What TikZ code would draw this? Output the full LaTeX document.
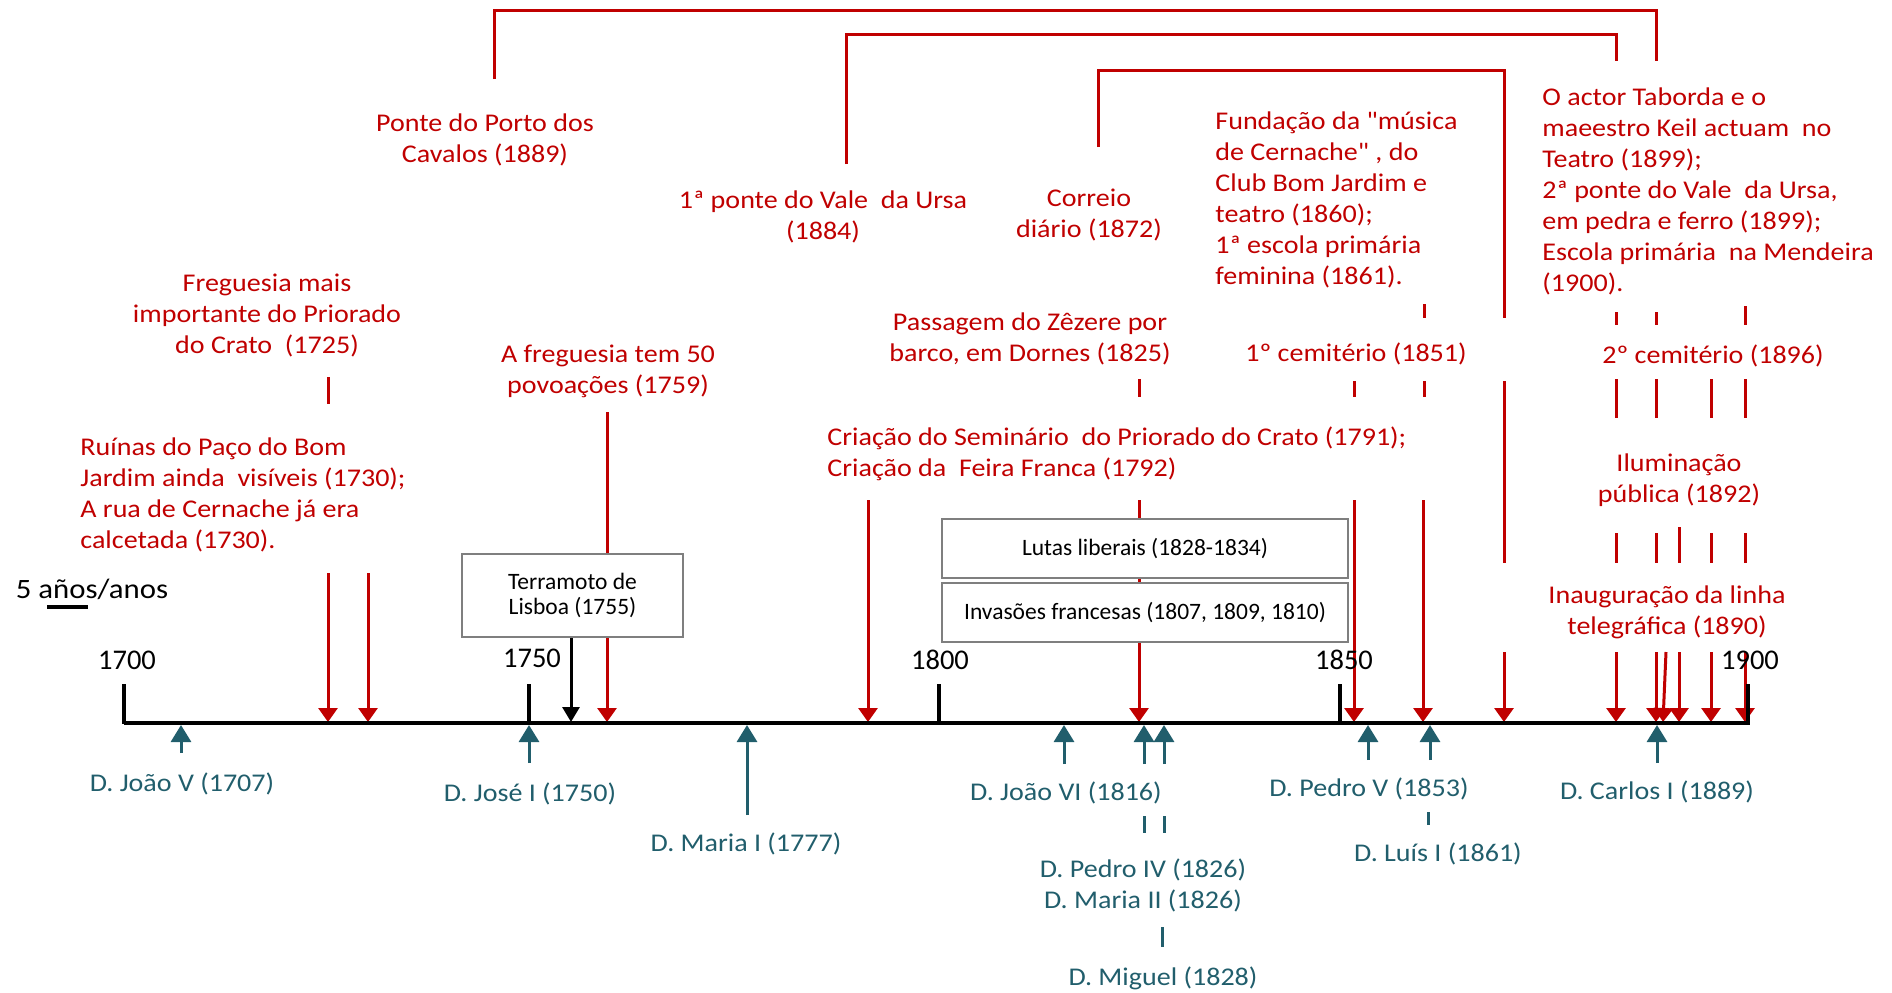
\documentclass[tikz,border=0pt]{standalone}
\usepackage{fontspec}
\setmainfont{Carlito}
\newfontfamily\wf{Carlito}[FakeStretch=1.1]
\usetikzlibrary{arrows.meta}
\definecolor{dred}{HTML}{C00000}
\definecolor{kteal}{HTML}{215E6C}
\definecolor{bgray}{HTML}{7F7F7F}
\tikzset{
  redline/.style={draw=dred, line width=1.5pt},
  redarrow/.style={redline, -{Triangle[width=9.5pt,length=7pt]}},
  tealline/.style={draw=kteal, line width=1.5pt},
  tealarrow/.style={tealline, -{Triangle[width=10pt,length=8.5pt]}},
  blackarrow/.style={draw=black, line width=1.5pt, -{Triangle[width=8.5pt,length=7.5pt]}},
  redtxt/.style={text=dred, inner sep=0pt, font=\wf\fontsize{12.75pt}{15.5pt}\selectfont},
  tealtxt/.style={text=kteal, inner sep=0pt, font=\wf\fontsize{12.75pt}{15.5pt}\selectfont},
  yeartxt/.style={text=black, inner sep=0pt, font=\fontsize{14.25pt}{16pt}\selectfont},
  boxnode/.style={draw=bgray, line width=1.4pt, fill=white, inner sep=0pt, align=center,
     font=\fontsize{11.75pt}{12.5pt}\selectfont},
  axisline/.style={draw=black, line width=2.25pt},
  tickline/.style={draw=black, line width=2.3pt}
}
\begin{document}
\begin{tikzpicture}[x=0.5pt,y=-0.5pt]
\useasboundingbox (0,0) rectangle (1892,992);

% ---- top brackets ----
\draw[redline] (494,79) -- (494,10) -- (1656,10) -- (1656,61);
\draw[redline] (846,164) -- (846,34) -- (1616,34) -- (1616,61);
\draw[redline] (1098,147) -- (1098,70) -- (1504,70) -- (1504,318);

% ---- red plain segments ----
\draw[redline] (328,377) -- (328,404);
\draw[redline] (1139,379) -- (1139,397);
\draw[redline] (1354,381) -- (1354,397);
\draw[redline] (1424,304) -- (1424,318);
\draw[redline] (1424,381) -- (1424,397);
\draw[redline] (1504,381) -- (1504,563);
\draw[redline] (1616,312) -- (1616,325);
\draw[redline] (1656,312) -- (1656,325);
\draw[redline] (1745,306) -- (1745,325);
\foreach \x in {1616,1656,1711,1745} \draw[redline] (\x,379) -- (\x,418);
\foreach \x in {1616,1656,1711,1745} \draw[redline] (\x,533) -- (\x,563);
\draw[redline] (1679,527) -- (1679,563);

% ---- red arrows to the axis ----
\draw[redarrow] (328,573) -- (328,722);
\draw[redarrow] (368,573) -- (368,722);
\draw[redarrow] (607,412) -- (607,722);
\draw[redarrow] (868,500) -- (868,722);
\draw[redarrow] (1139,500) -- (1139,722);
\draw[redarrow] (1354,500) -- (1354,722);
\draw[redarrow] (1423,500) -- (1423,722);
\foreach \x in {1504,1616,1656,1679,1711,1745} \draw[redarrow] (\x,652) -- (\x,722);
\draw[redarrow] (1666,652) -- (1663,722);

% ---- boxes ----
\node[boxnode, minimum width=110.5pt, minimum height=41.5pt] (terr) at (572.5,595.5) {Terramoto de\\Lisboa (1755)};
\node[boxnode, minimum width=203pt, minimum height=29.5pt] (lutas) at (1145,548.5) {Lutas liberais (1828-1834)};
\node[boxnode, minimum width=203pt, minimum height=29.5pt] (inv) at (1145,612.5) {Invasões francesas (1807, 1809, 1810)};
\coordinate (e1755) at (571,722);
\draw[blackarrow] (terr.south -| e1755) -- (e1755);

% ---- axis and ticks ----
\draw[axisline] (124,723) -- (1750,723);
\foreach \x in {124,529,939,1340,1748} \draw[tickline] (\x,684) -- (\x,724);

% ---- year labels ----
\node[yeartxt] (y1700) at (127,660) {1700};
\node[yeartxt] (y1750) at (532,658) {1750};
\node[yeartxt] (y1800) at (940,660) {1800};
\node[yeartxt] (y1850) at (1344,660) {1850};
\node[yeartxt] (y1900) at (1750,660) {1900};

% ---- scale ----
\node[text=black, inner sep=0pt, font=\wf\fontsize{14pt}{16pt}\selectfont] (scale) at (92,589) {5 años/anos};
\draw[black, line width=2pt] (47,607) -- (88,607);

% ---- teal arrows ----
\foreach \x/\y in {181/753,529/763,747/815,1064/764,1144/764,1164/764,1368/760,1430/760,1657/763}
  \draw[tealarrow] (\x,\y) -- (\x,725);
\draw[tealline] (1144,816) -- (1144,833);
\draw[tealline] (1164,816) -- (1164,833);
\draw[tealline] (1162,927) -- (1162,947);
\draw[tealline] (1428,812) -- (1428,825);

% ---- teal labels ----
\node[tealtxt] (jv) at (182,784) {D. João V (1707)};
\node[tealtxt] (jose) at (530,794) {D. José I (1750)};
\node[tealtxt] (mi) at (746,844) {D. Maria I (1777)};
\node[tealtxt] (jvi) at (1066,793) {D. João VI (1816)};
\node[tealtxt, align=center] (piv) at (1143,885.5) {D. Pedro IV (1826)\\D. Maria II (1826)};
\node[tealtxt] (mig) at (1163,978) {D. Miguel (1828)};
\node[tealtxt] (pv) at (1369,789) {D. Pedro V (1853)};
\node[tealtxt] (li) at (1438,854) {D. Luís I (1861)};
\node[tealtxt] (ci) at (1657,792) {D. Carlos I (1889)};

% ---- red labels ----
\node[redtxt, align=center] (ponte) at (485,139.5) {Ponte do Porto dos\\Cavalos (1889)};
\node[redtxt, align=center] (vale) at (823,216.5) {1ª ponte do Vale\ \ da Ursa\\(1884)};
\node[redtxt, align=center] (corr) at (1089,214.5) {Correio\\diário (1872)};
\node[redtxt, align=left, anchor=west] (fund) at (1215,200) {Fundação da "música\\de Cernache" , do\\Club Bom Jardim e\\teatro (1860);\\1ª escola primária\\feminina (1861).};
\node[redtxt, align=left, anchor=west] (actor) at (1542,191.5) {O actor Taborda e o\\maeestro Keil actuam\ \ no\\Teatro (1899);\\2ª ponte do Vale\ \ da Ursa,\\em pedra e ferro (1899);\\Escola primária\ \ na Mendeira\\(1900).};
\node[redtxt, align=center] (freg) at (267,315) {Freguesia mais\\importante do Priorado\\do Crato\ \ (1725)};
\node[redtxt, align=center] (povo) at (608,371) {A freguesia tem 50\\povoações (1759)};
\node[redtxt, align=center] (zez) at (1030,339) {Passagem do Zêzere por\\barco, em Dornes (1825)};
\node[redtxt] (cem1) at (1356,354) {1º cemitério (1851)};
\node[redtxt, align=left, anchor=west] (ruin) at (80,494.5) {Ruínas do Paço do Bom\\Jardim ainda\ \ visíveis (1730);\\A rua de Cernache já era\\calcetada (1730).};
\node[redtxt, align=left, anchor=west] (sem) at (827,454) {Criação do Seminário\ \ do Priorado do Crato (1791);\\Criação da\ \ Feira Franca (1792)};
\node[redtxt] (cem2) at (1713,356) {2º cemitério (1896)};
\node[redtxt, align=center] (ilum) at (1679,480) {Iluminação\\pública (1892)};
\node[redtxt, align=center] (inaug) at (1667,612.5) {Inauguração da linha\\telegráfica (1890)};
\end{tikzpicture}
\end{document}
